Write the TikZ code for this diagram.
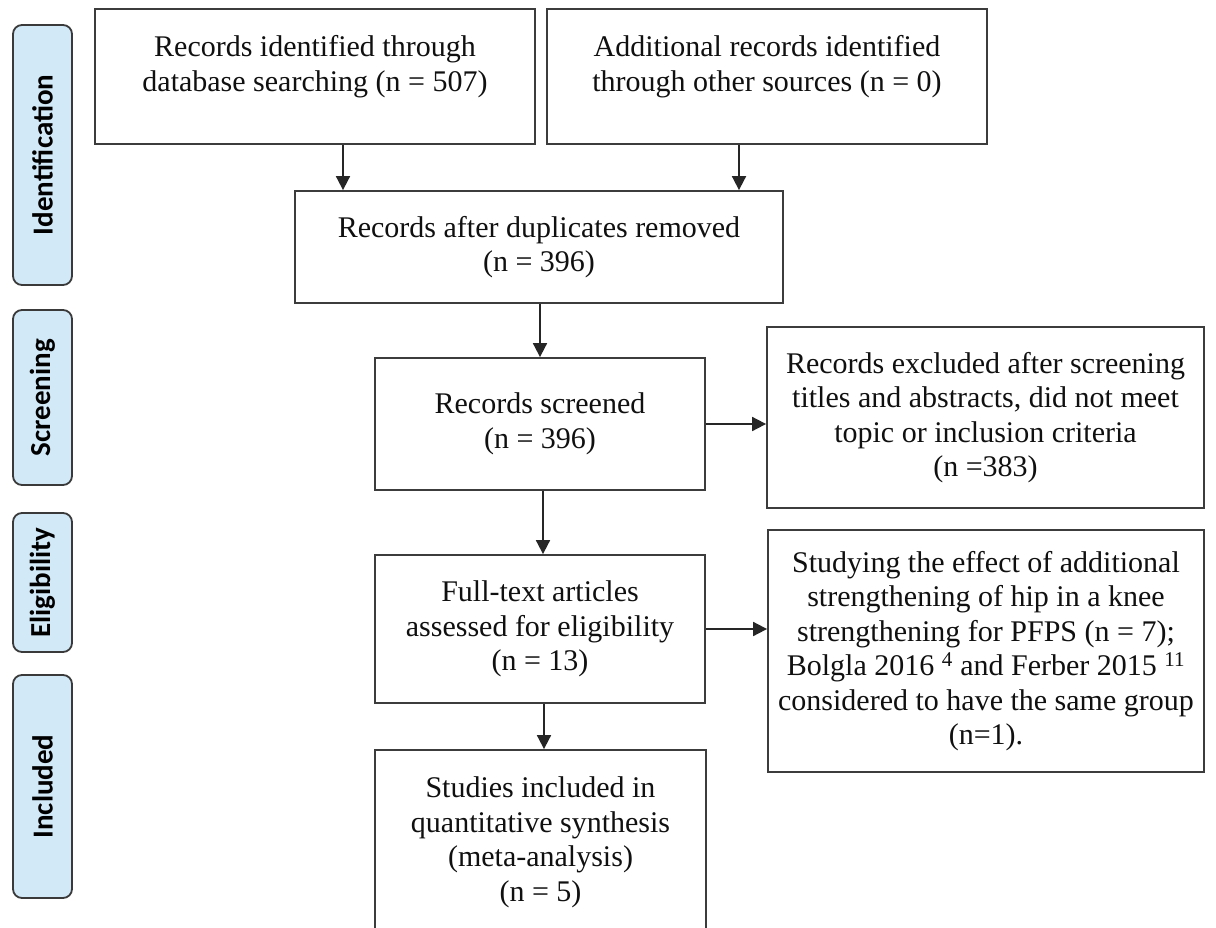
\documentclass[tikz,border=0pt]{standalone}
\usepackage{fontspec}
\setmainfont{Liberation Serif}
\newfontfamily\labfont{Carlito}
\usetikzlibrary{arrows.meta}
\definecolor{labfill}{HTML}{D2E9F8}
\definecolor{labdraw}{HTML}{3A3A3A}
\definecolor{boxdraw}{HTML}{3C3C3C}
\definecolor{txt}{HTML}{101010}
\tikzset{
  flowbox/.style={draw=boxdraw, line width=1.8pt, fill=white, rectangle, align=center,
    inner sep=0pt, text=txt, font=\fontsize{30}{34.5}\selectfont},
  phase/.style={draw=labdraw, line width=1.8pt, fill=labfill, rounded corners=9pt,
    inner sep=0pt, rotate=90, text=black, font=\labfont\bfseries\fontsize{29}{32}\selectfont},
  flowarrow/.style={draw=black!85, line width=1.8pt, -{Triangle[width=14pt,length=14pt]}}
}
\begin{document}
\begin{tikzpicture}[x=1pt,y=-1pt]
\useasboundingbox (0,0) rectangle (1216,928);
\clip (0,0) rectangle (1216,928);
\fill[white] (0,0) rectangle (1216,928);

% phase labels
\node[phase, minimum width=260pt, minimum height=59pt] (pid) at (42.5,155) {Identification};
\node[phase, minimum width=175pt, minimum height=59pt] (psc) at (42.5,397.5) {Screening};
\node[phase, minimum width=139pt, minimum height=59pt] (pel) at (42.5,582.5) {Eligibility};
\node[phase, minimum width=223pt, minimum height=59pt] (pin) at (42.5,786.5) {Included};

% boxes
\node[flowbox, minimum width=440pt, minimum height=135pt, text depth=26pt] (b1) at (315,76.5)
  {Records identified through\\database searching (n = 507)};
\node[flowbox, minimum width=440pt, minimum height=135pt, text depth=26pt] (b2) at (767,76.5)
  {Additional records identified\\through other sources (n = 0)};
\node[flowbox, minimum width=488pt, minimum height=112pt] (b3) at (539,247)
  {Records after duplicates removed\\(n = 396)};
\node[flowbox, minimum width=330pt, minimum height=132pt] (b4) at (540,424)
  {Records screened\\(n = 396)};
\node[flowbox, minimum width=437pt, minimum height=181pt] (b5) at (985.5,417.5)
  {Records excluded after screening\\titles and abstracts, did not meet\\topic or inclusion criteria\\(n =383)};
\node[flowbox, minimum width=330pt, minimum height=148pt] (b6) at (540,629)
  {Full-text articles\\assessed for eligibility\\(n = 13)};
\node[flowbox, minimum width=436pt, minimum height=242pt] (b7) at (986,651)
  {Studying the effect of additional\\strengthening of hip in a knee\\strengthening for PFPS (n = 7);\\Bolgla 2016 \textsuperscript{4} and Ferber 2015 \textsuperscript{11}\\considered to have the same group\\(n=1).};
\node[flowbox, minimum width=331pt, minimum height=185pt] (b8) at (540.5,842.5)
  {Studies included in\\quantitative synthesis\\(meta-analysis)\\(n = 5)};

% connectors
\draw[flowarrow] ([xshift=28pt]b1.south) -- ([xshift=28pt]b1.south |- b3.north);
\draw[flowarrow] ([xshift=-28pt]b2.south) -- ([xshift=-28pt]b2.south |- b3.north);
\draw[flowarrow] (b3.south -| b4.north) -- (b4.north);
\draw[flowarrow] (b4.east) -- (b4.east -| b5.west);
\draw[flowarrow] ([xshift=3pt]b4.south) -- ([xshift=3pt]b6.north);
\draw[flowarrow] (b6.east) -- (b6.east -| b7.west);
\draw[flowarrow] ([xshift=4pt]b6.south) -- ([xshift=4pt]b6.south |- b8.north);
\end{tikzpicture}
\end{document}
